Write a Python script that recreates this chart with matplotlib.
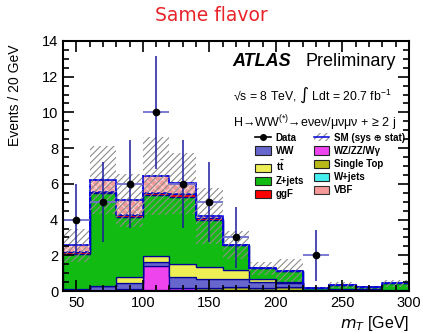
import numpy as np
import matplotlib
matplotlib.use("Agg")
import matplotlib.pyplot as plt
from matplotlib.patches import Patch
from matplotlib.lines import Line2D
from matplotlib.ticker import MultipleLocator

plt.rcParams['font.family'] = ['Liberation Sans', 'DejaVu Sans']
plt.rcParams['mathtext.default'] = 'regular'
plt.rcParams['hatch.linewidth'] = 0.8

# mT bins, 20 GeV wide
edges = [40, 60, 80, 100, 120, 140, 160, 180, 200, 220, 240, 260, 280, 300]

# stacked backgrounds, bottom to top
wjets = [0, 0, 0, 0.05, 0.03, 0, 0, 0, 0, 0, 0, 0, 0]
stop = [0, 0, 0, 0, 0.05, 0.15, 0.25, 0.15, 0.2, 0, 0.05, 0, 0.03]
wzzz = [0, 0, 0.13, 1.35, 0.1, 0, 0, 0, 0, 0, 0, 0, 0]
ww = [0.1, 0.3, 0.3, 0.25, 0.62, 0.5, 0.4, 0.35, 0.26, 0.05, 0.04, 0.1, 0.05]
ttbar = [0, 0, 0.35, 0.32, 0.7, 0.7, 0.52, 0.2, 0.05, 0, 0, 0, 0]
zjets = [2.0, 5.17, 3.36, 3.4, 3.75, 2.63, 1.38, 0.57, 0.63, 0.1, 0.25, 0.1, 0.35]
ggf = [0.1, 0.08, 0.09, 0.13, 0.2, 0.1, 0.0, 0, 0, 0, 0, 0, 0]
vbf = [0.35, 0.65, 0.85, 0.94, 0.58, 0.12, 0.03, 0, 0, 0, 0, 0, 0]

sm_err = [0.9, 1.9, 1.5, 2.2, 1.7, 1.55, 0.78, 0.37, 0.63, 0.05, 0.18, 0.08, 0.19]

data = [4, 5, 6, 10, 6, 5, 3, 0, 0, 2, 0, 0, 0]

layers = [
    (wjets, '#44eeee', 'W+jets'),
    (stop, '#b8b81a', 'Single Top'),
    (wzzz, '#ee44ee', r'WZ/ZZ/W$\gamma$'),
    (ww, '#6666cc', 'WW'),
    (ttbar, '#eeee55', r't$\bar{t}$'),
    (zjets, '#11bb11', 'Z+jets'),
    (ggf, '#ff0000', 'ggF'),
    (vbf, '#f49a9a', 'VBF'),
]

fig = plt.figure(figsize=(4.23, 3.33), dpi=100)
ax = fig.add_axes([0.149, 0.126, 0.818, 0.751])

navy = '#000099'
bottom = np.zeros(len(data))
handles = {}
for vals, col, lab in layers:
    vals = np.array(vals, dtype=float)
    top = bottom + vals
    if lab == 'VBF':
        ax.stairs(top, edges, baseline=bottom, fill=True, facecolor=col, lw=0)
        ax.stairs(top, edges, baseline=bottom, fill=True, facecolor='none',
                  hatch='xxxx', edgecolor='#fcd2d2', lw=0)
        ax.stairs(top, edges, baseline=bottom, fill=True, facecolor='none',
                  edgecolor='#0000dd', lw=1.1, ls=(0, (2.5, 1.5)))
        handles[lab] = Patch(facecolor=col, edgecolor='#333333', lw=0.8)
    else:
        ax.stairs(top, edges, baseline=bottom, fill=True, facecolor=col,
                  edgecolor=navy, lw=0.9)
        handles[lab] = Patch(facecolor=col, edgecolor='#222222', lw=0.8)
    bottom = top

total = bottom
err = np.array(sm_err)
ax.stairs(total + err, edges, baseline=total - err, fill=True, facecolor='none',
          hatch='/////', edgecolor='#8c8c8c', lw=0)
ax.stairs(total, edges, color='#0000dd', lw=1.1, ls=(0, (2.5, 1.5)))

# data points, empty bins not drawn
centers = [(edges[i] + edges[i + 1]) / 2 for i in range(len(data))]
xs = [c for c, d in zip(centers, data) if d > 0]
ys = [d for d in data if d > 0]
yerr = [np.sqrt(d) for d in ys]
ax.errorbar(xs, ys, xerr=10, fmt='none', ecolor='#7070d0', elinewidth=1.3, capsize=0)
ax.errorbar(xs, ys, yerr=yerr, fmt='o', color='black', ecolor='#1a1aa0',
            elinewidth=1.1, markersize=4.5, capsize=0)

ax.set_xlim(40, 300)
ax.set_ylim(0, 14)
ax.xaxis.set_major_locator(MultipleLocator(50))
ax.xaxis.set_minor_locator(MultipleLocator(10))
ax.yaxis.set_major_locator(MultipleLocator(2))
ax.yaxis.set_minor_locator(MultipleLocator(0.5))
ax.tick_params(which='both', direction='in', top=True, right=True, width=1.2, labelsize=10.5)
ax.tick_params(which='major', length=8)
ax.tick_params(which='minor', length=4)
for s in ax.spines.values():
    s.set_linewidth(1.5)

ax.set_ylabel('Events / 20 GeV', fontsize=10, loc='top')
ax.yaxis.set_label_coords(-0.118, 0.985)
ax.set_xlabel(r'$\it{m}_{T}$ [GeV]', fontsize=11.5, loc='right', labelpad=3)
fig.text(0.5, 0.953, 'Same flavor', color='#e8242a', fontsize=13.5,
         ha='center', va='center', family=['DejaVu Sans'])

ax.text(0.49, 0.916, 'ATLAS', transform=ax.transAxes, fontsize=13,
        fontweight='bold', fontstyle='italic', va='center')
ax.text(0.70, 0.916, 'Preliminary', transform=ax.transAxes, fontsize=13, va='center')
ax.text(0.49, 0.784, '√s = 8 TeV, ∫ Ldt = 20.7 fb$^{-1}$',
        transform=ax.transAxes, fontsize=8.8, va='center')
ax.text(0.49, 0.672, 'H→WW$^{(*)}$→eνeν/μνμν + ≥ 2 j',
        transform=ax.transAxes, fontsize=9, va='center')

data_h = Line2D([], [], color='black', marker='o', markersize=4, lw=1.2)
sm_h = (Patch(facecolor='white', edgecolor='#8c8c8c', hatch='/////', lw=0),
        Line2D([], [], color='#0000dd', lw=1.1))
order = [(data_h, 'Data'), (handles['WW'], 'WW'), (handles[r't$\bar{t}$'], r't$\bar{t}$'),
         (handles['Z+jets'], 'Z+jets'), (handles['ggF'], 'ggF'),
         (sm_h, 'SM (sys ⊕ stat)'), (handles[r'WZ/ZZ/W$\gamma$'], 'WZ/ZZ/Wγ'),
         (handles['Single Top'], 'Single Top'), (handles['W+jets'], 'W+jets'),
         (handles['VBF'], 'VBF')]
leg = ax.legend([h for h, _ in order], [l for _, l in order], ncol=2,
                loc='upper left', bbox_to_anchor=(0.53, 0.668), frameon=False,
                prop={'size': 7, 'weight': 'bold'}, handlelength=1.6,
                handleheight=0.9, handletextpad=0.5, columnspacing=1.0,
                labelspacing=0.32)

fig.savefig('out.png', dpi=100)
